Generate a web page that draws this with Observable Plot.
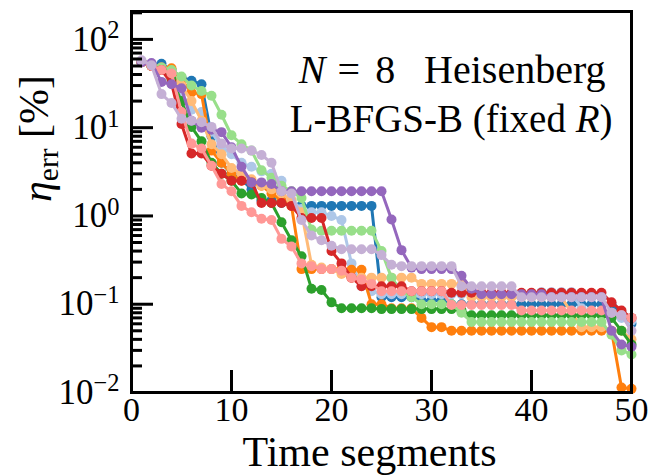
<!DOCTYPE html>
<html><head><meta charset="utf-8">
<script src="https://cdn.jsdelivr.net/npm/d3@7"></script>
<script src="https://cdn.jsdelivr.net/npm/@observablehq/plot@0.6"></script>
<style>body{margin:0;background:#fff}</style>
</head><body><div id="chart"></div>
<script>
const segments = [1,2,3,4,5,6,7,8,9,10,11,12,13,14,15,16,17,18,19,20,21,22,23,24,25,26,27,28,29,30,31,32,33,34,35,36,37,38,39,40,41,42,43,44,45,46,47,48,49,50];

const blue = [55,52,53,45,37,34,31,8,4,3, 2.6,2.0,1.5,1.5,1.4,1.35,1.3,1.3,1.3,1.3, 1.3,1.3,1.3,1.3,0.12,0.12,0.12,0.12,0.11,0.11, 0.11,0.1,0.1,0.1,0.1,0.1,0.1,0.1,0.1,0.1, 0.1,0.1,0.1,0.1,0.1,0.1,0.1,0.1,0.08,0.06];
const lightBlue = [55,52,48,40,25,16,15,9,6,5, 4,3.6,3.2,3,2.5,1.5,1.2,1.1,1.1,1.0, 0.9,0.29,0.16,0.14,0.13,0.13,0.13,0.13,0.13,0.13, 0.13,0.13,0.13,0.13,0.13,0.13,0.13,0.13,0.13,0.13, 0.137,0.137,0.137,0.137,0.09,0.08,0.08,0.075,0.07,0.065];
const orange = [55,50,48,47,35,25,24,5.5,4,3, 2.5,2.4,2.2,1.8,1.5,1.3,0.25,0.25,0.25,0.25, 0.25,0.245,0.245,0.1,0.1,0.09,0.09,0.09,0.07,0.055, 0.055,0.05,0.05,0.05,0.05,0.05,0.05,0.05,0.05,0.05, 0.05,0.05,0.05,0.05,0.05,0.05,0.05,0.05,0.0114,0.011];
const lightOrange = [55,50,47,42,30,20,12,6.5,5,3.5, 3,2.6,2.2,2,1.8,1.5,1.1,0.28,0.26,0.25, 0.22,0.2,0.2,0.2,0.2,0.2,0.2,0.2,0.17,0.17, 0.17,0.17,0.17,0.12,0.12,0.12,0.12,0.12,0.12,0.12, 0.12,0.12,0.12,0.08,0.055,0.055,0.055,0.05,0.05,0.04];
const green = [55,50,45,35,20,10.2,7,4,3,2.5, 1.8,1.75,1.6,1.4,0.85,0.53,0.35,0.15,0.145,0.105, 0.09,0.09,0.09,0.09,0.088,0.088,0.088,0.088,0.088,0.088, 0.088,0.088,0.085,0.075,0.075,0.075,0.075,0.075,0.075,0.075, 0.075,0.075,0.075,0.075,0.075,0.075,0.075,0.07,0.05,0.035];
const lightGreen = [55,52,48,45,38,30,26,23,14,8.2, 6.5,5.5,3.3,2.7,2.2,1.9,1.6,0.7,0.68,0.68, 0.68,0.68,0.68,0.68,0.4,0.2,0.14,0.12,0.1,0.1, 0.1,0.1,0.08,0.063,0.063,0.063,0.063,0.063,0.063,0.063, 0.063,0.063,0.063,0.063,0.063,0.063,0.063,0.045,0.03,0.027];
const red = [55,50,45,32,11,5.1,5.1,3.7,3.0,2.5, 2.5,2.4,1.4,1.4,1.4,1.3,0.95,0.95,0.95,0.4, 0.29,0.2,0.16,0.16,0.16,0.16,0.16,0.14,0.14,0.14, 0.14,0.135,0.135,0.135,0.135,0.135,0.135,0.135,0.135,0.135, 0.135,0.135,0.135,0.135,0.135,0.135,0.135,0.105,0.085,0.07];
const lightRed = [55,50,45,41,15,6.6,5.8,3.7,2.3,1.9, 1.3,1.1,0.93,0.9,0.55,0.45,0.29,0.27,0.25,0.25, 0.24,0.2,0.19,0.17,0.14,0.14,0.14,0.14,0.14,0.14, 0.14,0.098,0.098,0.098,0.098,0.098,0.098,0.098,0.085,0.085, 0.085,0.085,0.085,0.085,0.085,0.085,0.085,0.08,0.075,0.07];
const purple = [55,54,33,31,28,12,10,9.5,8.9,6, 3.6,2.4,2.4,2.3,1.9,1.9,1.9,1.9,1.9,1.9, 1.9,1.9,1.9,1.9,1.9,0.91,0.41,0.26,0.25,0.25, 0.25,0.25,0.21,0.15,0.13,0.13,0.13,0.13,0.13,0.13, 0.13,0.12,0.12,0.12,0.12,0.12,0.12,0.05,0.035,0.033];
const lightPurple = [58,51,24,19,12.6,12,11.5,10.2,6.6,5.8, 5.8,5.5,4.9,4.0,1.9,1.8,0.9,0.6,0.53,0.46, 0.42,0.42,0.42,0.42,0.36,0.28,0.27,0.27,0.27,0.27, 0.27,0.27,0.16,0.16,0.16,0.16,0.16,0.16,0.12,0.12, 0.12,0.12,0.12,0.12,0.12,0.12,0.12,0.08,0.075,0.05];

const seriesValues = [blue, lightBlue, orange, lightOrange, green, lightGreen, red, lightRed, purple, lightPurple];
const seriesColors = ["#1f77b4","#aec7e8","#ff7f0e","#ffbb78","#2ca02c","#98df8a","#d62728","#ff9896","#9467bd","#c5b0d5"];

const xTicks = [0,10,20,30,40,50];
const yMajorTicks = [0.01,0.1,1,10,100];
const yMinorTicks = [0.02,0.03,0.04,0.05,0.06,0.07,0.08,0.09,0.2,0.3,0.4,0.5,0.6,0.7,0.8,0.9,2,3,4,5,6,7,8,9,20,30,40,50,60,70,80,90,200];
const xLabel = "Time segments";
const yLabel = "ηerr [%]";
const note1 = "N = 8 Heisenberg";
const note2 = "L-BFGS-B (fixed R)";

const FONT = "'Liberation Serif', 'Times New Roman', serif";
const marks = [];
seriesValues.forEach((vals, i) => {
  const rows = segments.map((s, j) => ({x: s, y: vals[j]}));
  marks.push(Plot.line(rows, {x: "x", y: "y", stroke: seriesColors[i], strokeWidth: 3}));
  marks.push(Plot.dot(rows, {x: "x", y: "y", fill: seriesColors[i], r: 5}));
});

const chart = Plot.plot({
  width: 650, height: 475,
  marginLeft: 131, marginRight: 19, marginTop: 11, marginBottom: 83,
  style: {fontFamily: FONT, background: "#fff", color: "#000"},
  x: {domain: [0, 50]},
  y: {type: "log", domain: [0.01, 207]},
  marks: [
    ...marks,
    Plot.axisY(yMinorTicks, {anchor: "left", tickSize: -11, strokeWidth: 3, fill: "none", label: null}),
    Plot.axisY(yMajorTicks, {anchor: "left", tickSize: -22, strokeWidth: 3, fill: "none", label: null}),
    Plot.axisY(yMajorTicks, {anchor: "left", tickSize: 0, tickPadding: 12, fontSize: 35, label: null,
      tickFormat: d => "10^" + Math.round(Math.log10(d))}),
    Plot.axisX(xTicks, {anchor: "bottom", tickSize: -22, strokeWidth: 3, fill: "none", label: null}),
    Plot.axisX(xTicks, {anchor: "bottom", tickSize: 0, tickPadding: 4, fontSize: 34, label: null}),
    Plot.frame({stroke: "#000", strokeWidth: 3}),
    Plot.text([xLabel], {frameAnchor: "bottom", dx: -12, dy: 73, fontSize: 42, text: d => d}),
    Plot.text([yLabel], {frameAnchor: "left", rotate: -90, dx: -94, fontSize: 42, text: d => d}),
    Plot.text([note1], {frameAnchor: "top-right", textAnchor: "end", lineAnchor: "bottom", dx: -26, dy: 71, fontSize: 40, text: d => d}),
    Plot.text([note2], {frameAnchor: "top-right", textAnchor: "end", lineAnchor: "bottom", dx: -19, dy: 120, fontSize: 39, text: d => d})
  ]
});
document.getElementById("chart").appendChild(chart);

const NS = "http://www.w3.org/2000/svg";
function ts(parent, txt, attrs) {
  const t = document.createElementNS(NS, "tspan");
  for (const k in (attrs || {})) t.setAttribute(k, attrs[k]);
  t.textContent = txt;
  parent.appendChild(t);
}
chart.querySelectorAll("text").forEach(el => {
  const s = el.textContent;
  if (/^10\^-?\d$/.test(s)) {
    const e = s.split("^")[1].replace("-", "\u2212");
    el.textContent = "";
    ts(el, "10");
    ts(el, e, {dy: "-0.5em", "font-size": "0.7em"});
  } else if (s === yLabel) {
    el.textContent = "";
    ts(el, "η", {"font-style": "italic"});
    ts(el, "err", {dy: "0.25em", "font-size": "0.7em"});
    ts(el, " [%]", {dy: "-0.25em"});
  } else if (s === note1) {
    el.textContent = "";
    ts(el, "N", {"font-style": "italic"});
    ts(el, "=", {dx: "0.3em"});
    ts(el, "8", {dx: "0.38em"});
    ts(el, "Heisenberg", {dx: "0.72em"});
  } else if (s === note2) {
    el.textContent = "";
    ts(el, "L-BFGS-B (fixed ");
    ts(el, "R", {"font-style": "italic"});
    ts(el, ")");
  }
});
</script>
</body></html>
